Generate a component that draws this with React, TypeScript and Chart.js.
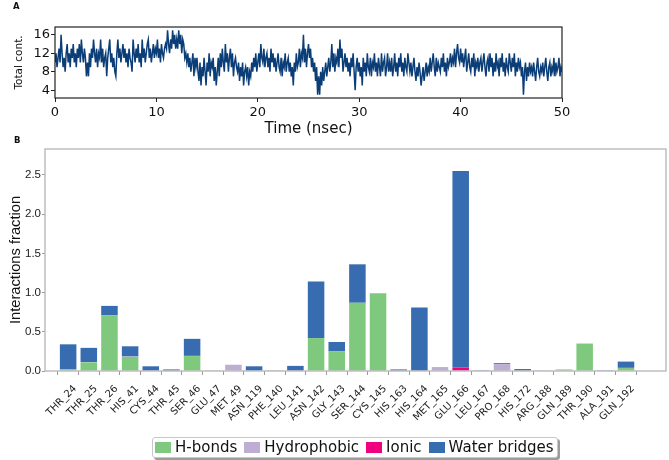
import React, { useEffect, useRef } from "react";
import { Chart, registerables } from "chart.js";

Chart.register(...registerables);

// ---------- Panel A: total contacts over time ----------
const TIME_STEP_NS = 0.1;
const TOTAL_CONTACTS = [
  10, 12, 9, 11, 13, 10, 16, 12, 9, 11,
  8, 12, 14, 10, 12, 9, 13, 11, 14, 10,
  12, 9, 13, 11, 14, 10, 15, 12, 10, 13,
  11, 7, 10, 7, 12, 9, 13, 11, 15, 12,
  10, 13, 9, 12, 11, 15, 10, 13, 9, 11,
  12, 7, 11, 13, 15, 10, 12, 9, 11, 8,
  7, 12, 15, 11, 13, 10, 12, 14, 11, 13,
  10, 12, 9, 13, 11, 10, 8, 15, 12, 10,
  13, 11, 14, 10, 12, 9, 15, 11, 13, 10,
  12, 14, 15, 11, 13, 10, 12, 14, 11, 13,
  12, 15, 11, 13, 10, 14, 12, 11, 13, 14,
  13, 17, 14, 12, 15, 13, 17, 14, 16, 13,
  15, 13, 17, 14, 16, 12, 15, 14, 11, 12,
  10, 12, 9, 11, 8, 10, 12, 7, 11, 9,
  11, 8, 6, 10, 5, 9, 7, 11, 8, 5,
  10, 8, 12, 7, 10, 9, 11, 6, 9, 5,
  8, 11, 7, 12, 9, 13, 10, 8, 14, 10,
  12, 8, 11, 13, 9, 12, 7, 10, 11, 9,
  8, 10, 6, 9, 7, 10, 5, 8, 9, 7,
  9, 5, 8, 7, 10, 8, 11, 9, 12, 8,
  10, 12, 9, 14, 11, 10, 13, 9, 11, 12,
  9, 11, 8, 13, 10, 12, 9, 11, 8, 10,
  12, 9, 8, 11, 7, 10, 9, 12, 8, 10,
  11, 8, 10, 7, 9, 5, 10, 8, 12, 9,
  10, 13, 9, 12, 11, 16, 10, 13, 9, 12,
  14, 11, 13, 9, 11, 8, 10, 6, 9, 3,
  7, 3, 8, 5, 9, 6, 8, 10, 7, 9,
  11, 8, 10, 14, 9, 12, 8, 11, 10, 13,
  9, 15, 11, 13, 8, 10, 12, 9, 11, 8,
  10, 7, 11, 9, 12, 8, 4, 9, 11, 8,
  10, 7, 9, 5, 11, 8, 10, 7, 12, 9,
  8, 11, 7, 10, 9, 12, 8, 10, 7, 11,
  9, 7, 12, 8, 10, 11, 7, 9, 12, 8,
  10, 8, 11, 7, 9, 12, 8, 10, 7, 11,
  9, 12, 8, 10, 7, 11, 9, 8, 12, 10,
  8, 10, 7, 9, 11, 8, 6, 9, 7, 10,
  8, 5, 7, 9, 6, 8, 10, 7, 9, 8,
  11, 8, 10, 12, 9, 7, 11, 8, 10, 9,
  8, 11, 9, 12, 8, 10, 7, 11, 9, 10,
  12, 9, 11, 10, 13, 9, 12, 14, 11, 10,
  13, 10, 12, 9, 11, 13, 8, 10, 12, 9,
  8, 11, 9, 12, 7, 10, 9, 11, 8, 10,
  11, 8, 10, 12, 9, 7, 10, 11, 8, 12,
  9, 11, 7, 10, 8, 12, 9, 10, 7, 11,
  9, 12, 8, 10, 7, 11, 9, 8, 12, 10,
  8, 11, 9, 12, 7, 10, 8, 11, 9, 10,
  7, 9, 3, 8, 10, 6, 9, 7, 10, 8,
  9, 7, 10, 8, 6, 9, 11, 8, 7, 9,
  8, 10, 7, 9, 11, 8, 6, 9, 10, 7,
  9, 8, 11, 7, 10, 8, 9, 11, 7, 9,
  8,
];
const TIME_TICKS = [0, 10, 20, 30, 40, 50];
const CONTACT_TICKS = [4, 8, 12, 16];

// ---------- Panel B: interaction fractions per residue ----------
const RESIDUES = [
  "THR_24", "THR_25", "THR_26", "HIS_41", "CYS_44", "THR_45", "SER_46",
  "GLU_47", "MET_49", "ASN_119", "PHE_140", "LEU_141", "ASN_142", "GLY_143",
  "SER_144", "CYS_145", "HIS_163", "HIS_164", "MET_165", "GLU_166", "LEU_167",
  "PRO_168", "HIS_172", "ARG_188", "GLN_189", "THR_190", "ALA_191", "GLN_192",
];
const HBONDS = [
  0.02, 0.11, 0.71, 0.18, 0, 0, 0.19,
  0, 0, 0, 0, 0, 0.42, 0.25,
  0.87, 0.99, 0, 0, 0, 0, 0,
  0, 0, 0, 0.02, 0.35, 0, 0.04,
];
const HYDROPHOBIC = [
  0, 0.005, 0, 0.005, 0, 0, 0,
  0, 0.08, 0, 0, 0, 0, 0,
  0, 0, 0, 0, 0.05, 0, 0,
  0.085, 0, 0, 0, 0, 0, 0,
];
const IONIC = [
  0, 0, 0, 0, 0, 0, 0.01,
  0, 0, 0, 0, 0, 0, 0,
  0, 0, 0, 0, 0, 0.04, 0,
  0, 0, 0, 0, 0, 0, 0,
];
const WATER_BRIDGES = [
  0.32, 0.18, 0.12, 0.13, 0.06, 0.02, 0.21,
  0.005, 0, 0.06, 0.004, 0.065, 0.72, 0.12,
  0.49, 0, 0.02, 0.81, 0, 2.51, 0.01,
  0.015, 0.025, 0.005, 0, 0, 0.003, 0.08,
];
const FRACTION_TICKS = [0, 0.5, 1.0, 1.5, 2.0, 2.5];

const SERIES = [
  { label: "H-bonds", values: HBONDS, color: "#7fc97f" },
  { label: "Hydrophobic", values: HYDROPHOBIC, color: "#beaed4" },
  { label: "Ionic", values: IONIC, color: "#f0027f" },
  { label: "Water bridges", values: WATER_BRIDGES, color: "#386cb0" },
];

const DEJAVU = "'DejaVu Sans', sans-serif";
const LIBSANS = "'Liberation Sans', Arial, sans-serif";

function framePlugin(color: string, width: number) {
  return {
    id: "frame",
    afterDraw(chart: any) {
      const { ctx, chartArea } = chart;
      const { left, top, right, bottom } = chartArea;
      ctx.save();
      ctx.strokeStyle = color;
      ctx.lineWidth = width;
      ctx.strokeRect(left, top, right - left, bottom - top);
      ctx.restore();
    },
  };
}

function PanelA() {
  const ref = useRef<HTMLCanvasElement | null>(null);
  useEffect(() => {
    if (!ref.current) return;
    const chart = new Chart(ref.current, {
      type: "line",
      data: {
        datasets: [
          {
            data: TOTAL_CONTACTS.map((v, i) => ({ x: i * TIME_STEP_NS, y: v })),
            borderColor: "#0b3d77",
            borderWidth: 1.5,
            pointRadius: 0,
            tension: 0,
            fill: false,
          },
        ],
      },
      options: {
        responsive: false,
        animation: false,
        layout: { padding: { left: 0, right: 107, top: 27, bottom: 0 } },
        plugins: { legend: { display: false }, tooltip: { enabled: false } },
        scales: {
          x: {
            type: "linear",
            min: 0,
            max: 50,
            afterFit: (s: any) => { s.height = 42; },
            afterBuildTicks: (s: any) => { s.ticks = TIME_TICKS.map((v) => ({ value: v })); },
            grid: { display: true, drawOnChartArea: false, drawTicks: true, tickLength: 4, color: "#222" },
            border: { display: false },
            ticks: { font: { family: DEJAVU, size: 13 }, color: "#111", padding: 3, maxRotation: 0 },
            title: {
              display: true,
              text: "Time (nsec)",
              font: { family: DEJAVU, size: 15 },
              color: "#111",
              padding: { top: 0, bottom: 2 },
            },
          },
          y: {
            type: "linear",
            min: 2.3,
            max: 17.7,
            afterFit: (s: any) => { s.width = 55; },
            afterBuildTicks: (s: any) => { s.ticks = CONTACT_TICKS.map((v) => ({ value: v })); },
            grid: { display: true, drawOnChartArea: false, drawTicks: true, tickLength: 4, color: "#222" },
            border: { display: false },
            ticks: { font: { family: DEJAVU, size: 13 }, color: "#111", padding: 1 },
            title: {
              display: true,
              text: "Total cont.",
              font: { family: DEJAVU, size: 10.5 },
              color: "#111",
              padding: { top: 12.5, bottom: 0 },
            },
          },
        },
      },
      plugins: [framePlugin("#222", 1.2)],
    } as any);
    return () => chart.destroy();
  }, []);
  return (
    <canvas
      ref={ref}
      width={669}
      height={140}
      style={{ position: "absolute", left: 0, top: 0, width: 669, height: 140 }}
    />
  );
}

function PanelB() {
  const ref = useRef<HTMLCanvasElement | null>(null);
  useEffect(() => {
    if (!ref.current) return;
    const chart = new Chart(ref.current, {
      type: "bar",
      data: {
        datasets: SERIES.map((s) => ({
          label: s.label,
          data: s.values.map((v, i) => ({ x: i, y: v })),
          backgroundColor: s.color,
          borderWidth: 0,
          barPercentage: 0.8,
          categoryPercentage: 1,
        })),
      },
      options: {
        responsive: false,
        animation: false,
        layout: { padding: { left: 0, right: 3, top: 9, bottom: 0 } },
        plugins: { legend: { display: false }, tooltip: { enabled: false } },
        scales: {
          x: {
            type: "linear",
            stacked: true,
            min: -0.583,
            max: 28.4,
            afterFit: (s: any) => { s.height = 69; },
            afterBuildTicks: (s: any) => { s.ticks = RESIDUES.map((_, i) => ({ value: i })); },
            grid: { display: true, drawOnChartArea: false, drawTicks: true, tickLength: 4, color: "#9a9a9a" },
            border: { display: false },
            ticks: {
              autoSkip: false,
              minRotation: 45,
              maxRotation: 45,
              padding: 8,
              labelOffset: 7,
              font: { family: DEJAVU, size: 10 },
              color: "#222",
              callback: (v: any) => RESIDUES[Math.round(Number(v))] ?? "",
            },
          },
          y: {
            type: "linear",
            stacked: true,
            min: 0,
            max: 2.83,
            afterFit: (s: any) => { s.width = 45; },
            afterBuildTicks: (s: any) => { s.ticks = FRACTION_TICKS.map((v) => ({ value: v })); },
            grid: { display: true, drawOnChartArea: false, drawTicks: true, tickLength: 3, color: "#9a9a9a" },
            border: { display: false },
            ticks: {
              font: { family: LIBSANS, size: 11.5 },
              color: "#222",
              padding: 1,
              callback: (v: any) => Number(v).toFixed(1),
            },
            title: {
              display: true,
              text: "Interactions fraction",
              font: { family: LIBSANS, size: 14.7 },
              color: "#111",
              padding: { top: 7.5, bottom: 0 },
            },
          },
        },
      },
      plugins: [framePlugin("#b4b4b4", 1.3)],
    } as any);
    return () => chart.destroy();
  }, []);
  return (
    <canvas
      ref={ref}
      width={669}
      height={300}
      style={{ position: "absolute", left: 0, top: 140, width: 669, height: 300 }}
    />
  );
}

function Legend() {
  return (
    <div
      style={{
        position: "absolute",
        left: 152,
        top: 437,
        height: 21,
        boxSizing: "border-box",
        border: "1px solid #c8c8c8",
        borderRadius: 3,
        boxShadow: "2px 2px 0 #9c9c9c",
        background: "#fff",
        display: "flex",
        alignItems: "center",
        padding: "0 3px 0 1px",
        fontFamily: DEJAVU,
        fontSize: 15,
        color: "#111",
        whiteSpace: "nowrap",
        lineHeight: "19px",
      }}
    >
      {SERIES.map((s, i) => (
        <div key={s.label} style={{ display: "flex", alignItems: "center", marginLeft: i === 0 ? 1 : 7 }}>
          <span style={{ display: "inline-block", width: 16, height: 11, background: s.color }} />
          <span style={{ marginLeft: 4 }}>{s.label}</span>
        </div>
      ))}
    </div>
  );
}

export default function App() {
  const panelLabel: React.CSSProperties = {
    position: "absolute",
    fontFamily: DEJAVU,
    fontWeight: "bold",
    fontSize: 8.5,
    color: "#111",
    lineHeight: "10px",
  };
  return (
    <div
      style={{
        position: "absolute",
        left: 0,
        top: 0,
        width: 669,
        height: 460,
        overflow: "hidden",
        background: "#fff",
      }}
    >
      <PanelA />
      <PanelB />
      <Legend />
      <div style={{ ...panelLabel, left: 13, top: 1 }}>A</div>
      <div style={{ ...panelLabel, left: 14, top: 135 }}>B</div>
    </div>
  );
}
